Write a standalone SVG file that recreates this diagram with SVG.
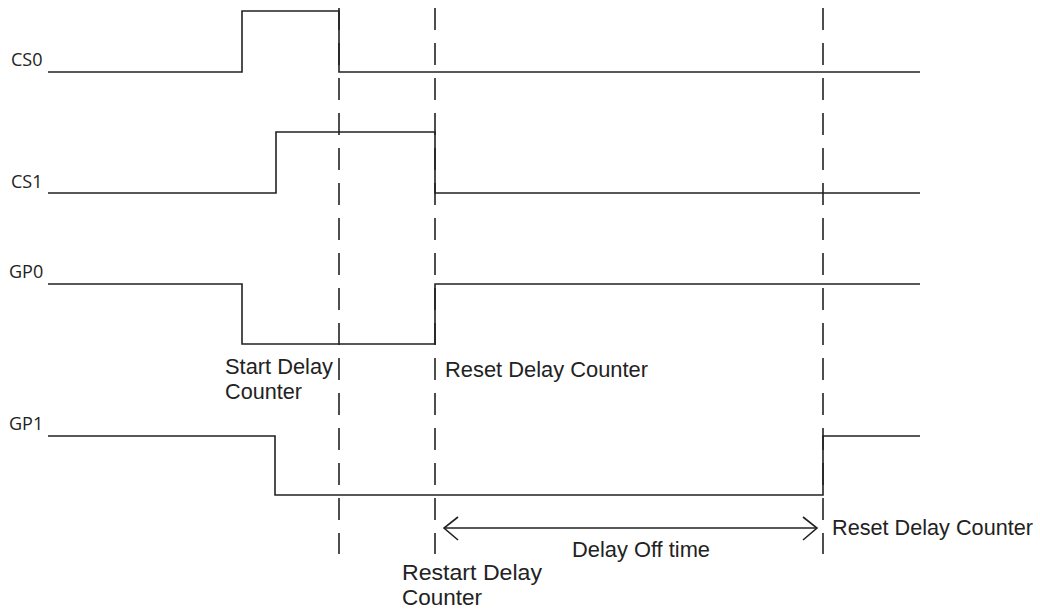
<svg xmlns="http://www.w3.org/2000/svg" width="1040" height="611" viewBox="0 0 1040 611">
<style>
.sig{fill:none;stroke:#222;stroke-width:1.6}
.dash{fill:none;stroke:#222;stroke-width:1.6;stroke-dasharray:22 13}
.lbl{font-family:"Open Sans","Liberation Sans",sans-serif;font-size:18px;fill:#222}
.txt{font-family:"Liberation Sans",Arial,sans-serif;font-size:22px;fill:#222}
</style>
<rect width="1040" height="611" fill="#fff"/>
<g id="connectors">
<line class="dash" x1="339" y1="8" x2="339" y2="554"/>
<line class="dash" x1="435" y1="8" x2="435" y2="554"/>
<line class="dash" x1="823" y1="8" x2="823" y2="554"/>
<line class="sig" x1="444" y1="528" x2="817" y2="528"/>
<polyline class="sig" points="458,517 444,528 458,540"/>
<polyline class="sig" points="803,517 817,528 803,540"/>
</g>
<g id="cs0">
<text class="lbl" x="11" y="66">CS0</text>
<polyline class="sig" points="48,72 242,72 242,11 339,11 339,72 920,72"/>
</g>
<g id="cs1">
<text class="lbl" x="11" y="188">CS1</text>
<polyline class="sig" points="48,193 276,193 276,132 435,132 435,193 920,193"/>
</g>
<g id="gp0">
<text class="lbl" x="9" y="278">GP0</text>
<polyline class="sig" points="48,284 242,284 242,344 435,344 435,284 920,284"/>
</g>
<g id="gp1">
<text class="lbl" x="9" y="430">GP1</text>
<polyline class="sig" points="48,436 275,436 275,495 823,495 823,436 920,436"/>
</g>
<g id="label-start">
<text class="txt" x="225" y="374" textLength="108" lengthAdjust="spacingAndGlyphs">Start Delay</text>
<text class="txt" x="225" y="399" textLength="77" lengthAdjust="spacingAndGlyphs">Counter</text>
</g>
<g id="label-reset1">
<text class="txt" x="445" y="377" textLength="203" lengthAdjust="spacingAndGlyphs">Reset Delay Counter</text>
</g>
<g id="label-restart">
<text class="txt" x="402" y="580" textLength="140" lengthAdjust="spacingAndGlyphs">Restart Delay</text>
<text class="txt" x="402" y="605" textLength="80" lengthAdjust="spacingAndGlyphs">Counter</text>
</g>
<g id="label-offtime">
<text class="txt" x="572" y="557" textLength="138" lengthAdjust="spacingAndGlyphs">Delay Off time</text>
</g>
<g id="label-reset2">
<text class="txt" x="832" y="535" textLength="201" lengthAdjust="spacingAndGlyphs">Reset Delay Counter</text>
</g>
</svg>
